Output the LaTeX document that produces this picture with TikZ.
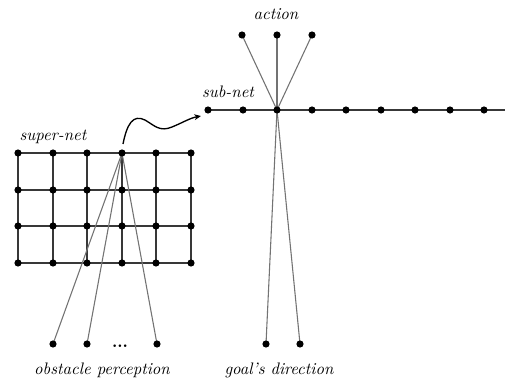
\documentclass[tikz,border=0pt]{standalone}
\usetikzlibrary{backgrounds,arrows.meta}
\begin{document}
\begin{tikzpicture}[x=0.6pt,y=-0.6pt,
  dot/.style={circle,fill=black,inner sep=0pt,minimum size=4.3pt},
  gridline/.style={draw=black!78,line width=1.05pt},
  thinline/.style={draw=black!55,line width=0.65pt},
  lbl/.style={font=\itshape,inner sep=0pt},
  wave/.style={draw=black,line width=0.8pt,-{Stealth[length=4pt,width=3.5pt]}}]
\useasboundingbox (0,0) rectangle (515,379);
% super-net grid
\foreach \c/\x in {1/18,2/53,3/87,4/122,5/156,6/191}{
  \foreach \r/\y in {1/153,2/190,3/226,4/263}{
    \node[dot] (g\c\r) at (\x,\y) {};
  }
}
% sub-net
\foreach \i/\x in {1/208,2/243,3/277,4/312,5/346,6/381,7/415,8/450,9/484}{
  \node[dot] (s\i) at (\x,110) {};
}
\coordinate (send) at (505,110);
% action
\node[dot] (a1) at (242,35) {};
\node[dot] (a2) at (277,35) {};
\node[dot] (a3) at (312,35) {};
% obstacle perception
\node[dot] (o1) at (53,344) {};
\node[dot] (o2) at (87,344) {};
\node[dot] (o3) at (157,344) {};
\node[font=\bfseries,inner sep=0pt] (odots) at (120,346) {...};
% goal's direction
\node[dot] (d1) at (266,344) {};
\node[dot] (d2) at (300,344) {};
% labels
\node[lbl] (lsuper) at (53,137) {super-net};
\node[lbl] (lsub) at (228,92) {sub-net};
\node[lbl] (laction) at (276,14) {action};
\node[lbl] (lobst) at (102,370) {obstacle perception};
\node[lbl] (lgoal) at (279,370) {goal's direction};
% wavy arrow
\coordinate (wstart) at (123,144);
\coordinate (wend) at (201,116);
\begin{scope}[on background layer]
\foreach \r in {1,2,3,4}{\draw[gridline] (g1\r.center) -- (g6\r.center);}
\foreach \c in {1,...,6}{\draw[gridline] (g\c1.center) -- (g\c4.center);}
\draw[gridline] (s1.center) -- (send);
\foreach \t in {o1,o2,o3}{\draw[thinline] (g41.center) -- (\t.center);}
\foreach \t in {a1,a2,a3,d1,d2}{\draw[thinline] (s3.center) -- (\t.center);}
\end{scope}
\draw[wave] (wstart) .. controls (127,124) and (133,114) .. (145,120)
  .. controls (155,126) and (160,132) .. (172,127)
  .. controls (182,123) and (190,118) .. (wend);
\end{tikzpicture}
\end{document}
